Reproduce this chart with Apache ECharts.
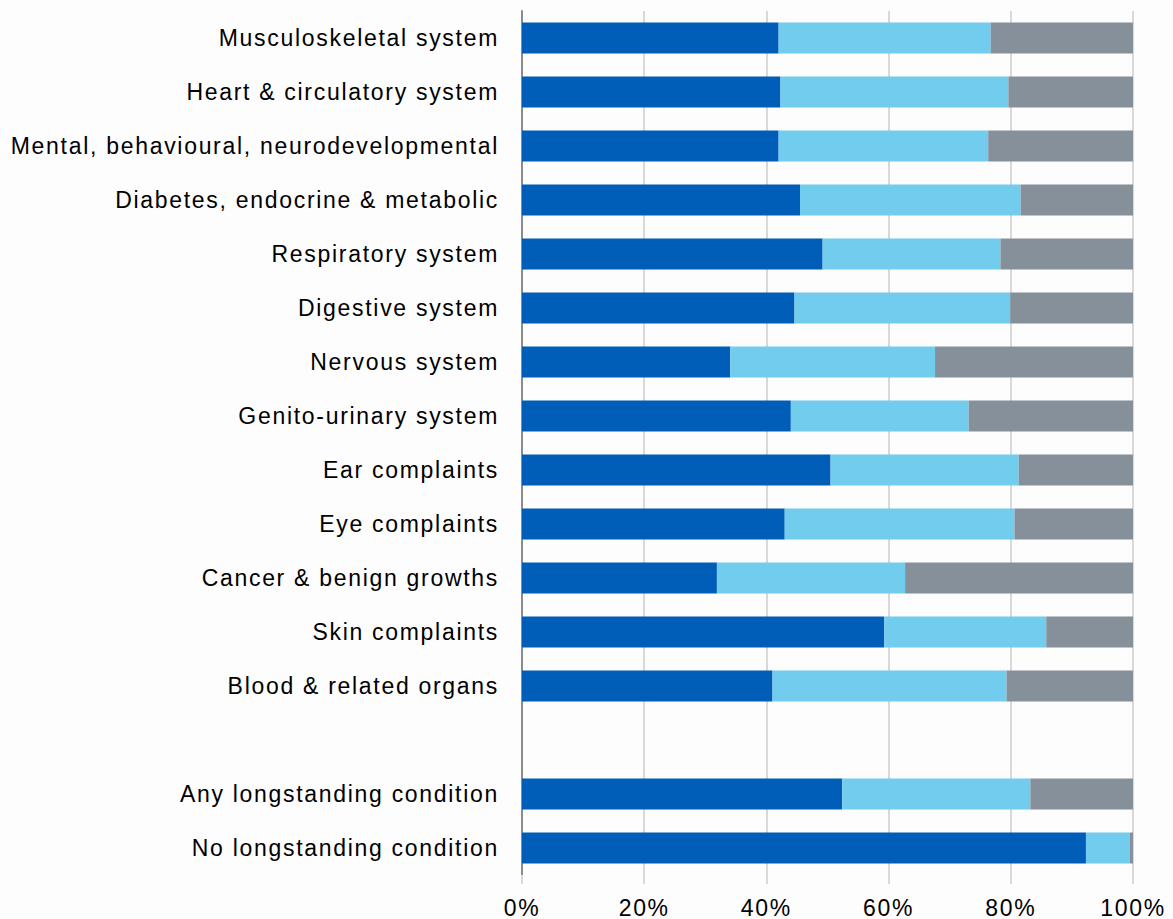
<!DOCTYPE html>
<html>
<head>
<meta charset="utf-8">
<title>Longstanding conditions</title>
<script src="https://cdn.jsdelivr.net/npm/echarts@6/dist/echarts.min.js"></script>
<style>
  html, body { margin: 0; padding: 0; background: #fdfdfd; }
  #chart { width: 1173px; height: 919px; }
  /* slightly open tracking on all chart text */
  #chart svg text { letter-spacing: 1.7px; }
</style>
</head>
<body>
<div id="chart"></div>
<script>
// Condition groups, top to bottom; the empty entry leaves a spacer row
const categories = [
  'Musculoskeletal system',
  'Heart & circulatory system',
  'Mental, behavioural, neurodevelopmental',
  'Diabetes, endocrine & metabolic',
  'Respiratory system',
  'Digestive system',
  'Nervous system',
  'Genito-urinary system',
  'Ear complaints',
  'Eye complaints',
  'Cancer & benign growths',
  'Skin complaints',
  'Blood & related organs',
  '',
  'Any longstanding condition',
  'No longstanding condition'
];

// Share of people (%) in each group, three stacked parts summing to 100
const partDark  = [42.0, 42.3, 42.0, 45.5, 49.2, 44.6, 34.1, 44.0, 50.5, 43.0, 31.9, 59.3, 41.0, '-', 52.4, 92.3];
const partLight = [34.7, 37.3, 34.3, 36.1, 29.1, 35.3, 33.5, 29.1, 30.8, 37.6, 30.8, 26.5, 38.3, '-', 30.8,  7.2];
const partGrey  = [23.3, 20.4, 23.7, 18.4, 21.7, 20.1, 32.4, 26.9, 18.7, 19.4, 37.3, 14.2, 20.7, '-', 16.8,  0.5];

const xTicks = [0, 20, 40, 60, 80, 100];

const FONT = '"Liberation Sans", Arial, sans-serif';
const chart = echarts.init(document.getElementById('chart'), null, { renderer: 'svg' });

function stackSeries(name, data, color) {
  return {
    name: name,
    type: 'bar',
    stack: 'total',
    data: data,
    barWidth: 31,
    itemStyle: { color: color },
    emphasis: { disabled: true }
  };
}

chart.setOption({
  animation: false,
  backgroundColor: '#fdfdfd',
  grid: { left: 522, right: 40, top: 11, bottom: 44, containLabel: false },
  xAxis: {
    type: 'value',
    min: xTicks[0],
    max: xTicks[xTicks.length - 1],
    interval: xTicks[1] - xTicks[0],
    axisLine: { show: false },
    axisTick: { show: true, length: 9, lineStyle: { color: '#d9d9d9', width: 2 } },
    splitLine: { show: true, lineStyle: { color: '#d9d9d9', width: 2 } },
    axisLabel: {
      margin: 21,
      color: '#000',
      fontFamily: FONT,
      fontSize: 23,
      formatter: v => v + '%'
    }
  },
  yAxis: {
    type: 'category',
    data: categories,
    inverse: true,
    axisLine: { show: true, lineStyle: { color: '#8c8c8c', width: 2 } },
    axisTick: { show: false },
    splitLine: { show: false },
    axisLabel: {
      margin: 23,
      color: '#000',
      fontFamily: FONT,
      fontSize: 23
    }
  },
  series: [
    stackSeries('Dark', partDark, '#005eb8'),
    stackSeries('Light', partLight, '#72ccee'),
    stackSeries('Grey', partGrey, '#85909b')
  ]
});
</script>
</body>
</html>
